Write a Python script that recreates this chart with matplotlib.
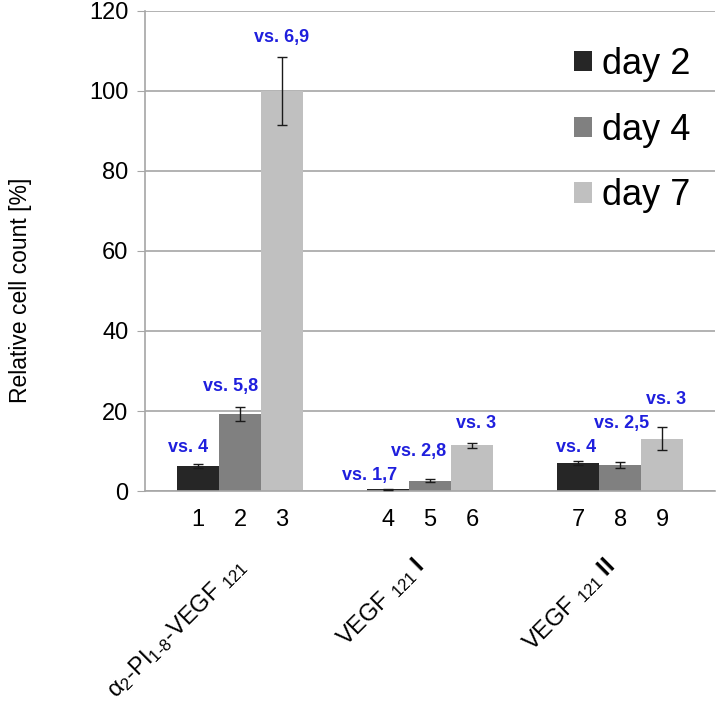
import numpy as np
import matplotlib
matplotlib.use("Agg")
import matplotlib.pyplot as plt
import matplotlib.transforms as mtransforms

plt.rcParams['font.family'] = ['Liberation Sans', 'DejaVu Sans']
plt.rcParams['mathtext.fontset'] = 'custom'
plt.rcParams['mathtext.rm'] = 'Liberation Sans'
plt.rcParams['mathtext.it'] = 'Liberation Sans'
plt.rcParams['mathtext.bf'] = 'Liberation Sans:bold'

# data
groups = [r'$\alpha_2$-PI$_{1\text{-}8}$-VEGF $_{121}$',
          r'VEGF $_{121}$ $\mathbf{I}$',
          r'VEGF $_{121}$ $\mathbf{II}$']
days = ['day 2', 'day 4', 'day 7']
day2 = [6.2, 0.4, 7.0]
day4 = [19.2, 2.6, 6.5]
day7 = [100.0, 11.4, 13.1]
err2 = [0.55, 0.15, 0.6]
err4 = [1.8, 0.35, 0.7]
err7 = [8.6, 0.7, 2.9]
bar_numbers = ['1', '2', '3', '4', '5', '6', '7', '8', '9']

# significance notes: text per bar (day2, day4, day7 order within each group)
notes = ['vs. 4', 'vs. 5,8', 'vs. 6,9',
         'vs. 1,7', 'vs. 2,8', 'vs. 3',
         'vs. 4', 'vs. 2,5', 'vs. 3']
note_y = [10.8, 26.1, 113.3,
          3.8, 9.8, 17.0,
          11.0, 17.0, 22.8]
note_dx = [-0.05, -0.05, 0.0,
           -0.1, -0.06, 0.02,
           -0.01, 0.01, 0.02]

colors = ['#262626', '#808080', '#c0c0c0']
grid_c = '#a6a6a6'

fig = plt.figure(figsize=(7.18, 7.07), dpi=100)
ax = fig.add_axes([0.202, 0.3055, 0.794, 0.679])

x = np.arange(len(groups))
w = 0.221
series = [day2, day4, day7]
errs = [err2, err4, err7]
positions = []
for i, (vals, e) in enumerate(zip(series, errs)):
    xs = x + (i - 1) * w
    positions.append(xs)
    ax.bar(xs, vals, width=w, color=colors[i], label=days[i], zorder=2)
    ax.errorbar(xs, vals, yerr=e, fmt='none', ecolor='#1a1a1a',
                elinewidth=1, capsize=3.6, capthick=1, zorder=3)

# bar order 1..9
all_x = np.array([positions[i][g] for g in range(3) for i in range(3)])

for k in range(9):
    ax.text(all_x[k] + note_dx[k], note_y[k], notes[k], color='#1f1fdd',
            fontsize=13, fontweight='bold', ha='center', va='center', zorder=4)

ax.set_xlim(-0.5, 2.5)
ax.set_ylim(0, 120)
ax.set_yticks(np.arange(0, 121, 20))
ax.tick_params(axis='y', labelsize=17, length=6, color=grid_c, pad=6)
ax.set_xticks(all_x)
ax.set_xticklabels(bar_numbers)
ax.tick_params(axis='x', labelsize=17, length=0, pad=13)
ax.yaxis.grid(True, color=grid_c, linewidth=1.2, zorder=0)
ax.set_axisbelow(True)
for s in ['top', 'right']:
    ax.spines[s].set_visible(False)
for s in ['left', 'bottom']:
    ax.spines[s].set_color(grid_c)
    ax.spines[s].set_linewidth(1.2)

ax.set_ylabel('Relative cell count [%]', fontsize=16.5)
ax.yaxis.set_label_coords(-0.198, 0.418)

trans = mtransforms.blended_transform_factory(ax.transData, ax.transAxes)
label_dx = [0.06, 0.0, 0.0]
for g, lab in enumerate(groups):
    ax.text(x[g] + label_dx[g], -0.13, lab, transform=trans, rotation=45,
            ha='right', va='top', fontsize=17)

leg = ax.legend(loc='upper left', bbox_to_anchor=(0.752, 0.925), frameon=False,
                fontsize=26, handlelength=0.5, handleheight=0.5,
                handletextpad=0.28, labelspacing=0.85, borderpad=0,
                borderaxespad=0)

fig.savefig('out.png', dpi=100)
